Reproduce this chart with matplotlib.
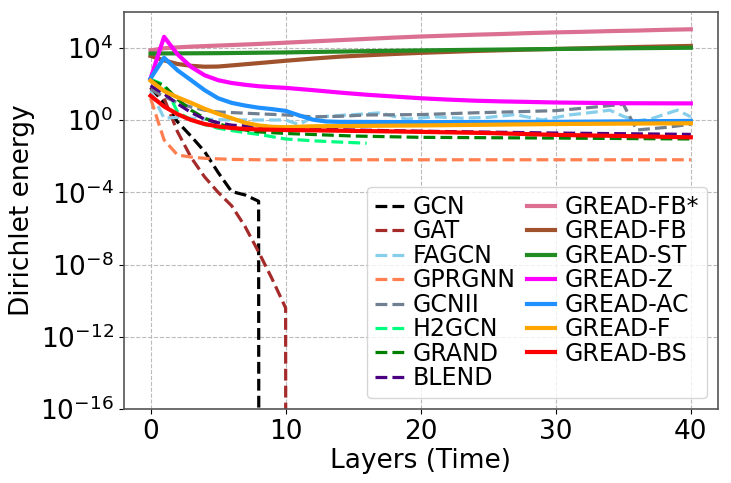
import numpy as np
import matplotlib
matplotlib.use("Agg")
import matplotlib.pyplot as plt
from matplotlib.ticker import NullLocator

# ---------------------------------------------------------------------------
# Data (Dirichlet energy, layer -> energy)
# ---------------------------------------------------------------------------

# baselines (dashed)
gcn_layers = [0, 1, 2, 3, 4, 5, 6, 7, 8, 9]
gcn_energy = [6.3e1, 8.9e0, 7.9e-1, 1.26e-1, 1.8e-2, 1.26e-3, 1.1e-4, 7.1e-5, 3.2e-5, 0.0]

gat_layers = [0, 1, 2, 3, 4, 5, 6, 7, 8, 9, 10, 11]
gat_energy = [5.6e1, 1.6e1, 2.2e-1, 8.5e-3, 7.1e-4, 1.0e-4, 1.8e-5, 1.26e-6,
              5.0e-8, 1.6e-9, 4.0e-11, 0.0]

fagcn_layers = [0, 1, 2, 3, 4, 6, 8, 10, 11, 12, 14, 16, 17, 18, 19, 21, 23, 25,
                27, 29, 31, 33, 34, 35, 36, 37, 38, 39, 40]
fagcn_energy = [4.0e1, 1.26, 1.4, 1.26, 1.12, 1.0, 1.0, 1.0, 0.56, 1.4, 1.8, 2.2,
                2.5, 1.6, 1.12, 1.5, 1.26, 1.4, 2.0, 1.0, 1.9, 2.8, 3.5, 1.6,
                0.9, 1.12, 2.0, 3.5, 1.5]

gprgnn_layers = [0, 1, 2, 3, 4, 5, 6, 8, 10, 20, 30, 40]
gprgnn_energy = [1.6e1, 7.9e-2, 1.15e-2, 8.9e-3, 7.6e-3, 7.1e-3, 6.6e-3, 6.3e-3,
                 6.3e-3, 6.3e-3, 6.3e-3, 6.3e-3]

gcnii_layers = [0, 1, 2, 3, 4, 5, 8, 10, 12, 14, 16, 20, 24, 28, 30, 32, 35, 36, 38, 40]
gcnii_energy = [5.0e1, 2.0e1, 8.9, 5.2, 3.5, 2.8, 2.2, 1.9, 1.5, 1.6, 1.9, 2.0,
                2.5, 3.0, 3.3, 4.5, 7.4, 0.28, 0.38, 0.58]

h2gcn_layers = [0, 1, 2, 3, 4, 5, 6, 7, 8, 10, 12, 14, 16]
h2gcn_energy = [1.8e2, 8.9e1, 2.8, 1.0, 0.56, 0.35, 0.26, 0.2, 0.16, 8.9e-2,
                7.1e-2, 6.0e-2, 5.2e-2]

grand_layers = [0, 1, 2, 3, 4, 5, 6, 7, 8, 10, 15, 20, 30, 40]
grand_energy = [1.6e2, 7.9e1, 1.4e1, 3.5, 1.26, 0.63, 0.38, 0.28, 0.22, 0.18,
                0.13, 0.11, 0.1, 8.9e-2]

blend_layers = [0, 1, 2, 3, 4, 5, 6, 8, 10, 15, 20, 30, 40]
blend_energy = [7.9e1, 2.8e1, 7.9, 2.6, 1.12, 0.71, 0.52, 0.42, 0.35, 0.28,
                0.24, 0.19, 0.16]

# GREAD variants (solid)
fbs_layers = [0, 1, 2, 3, 4, 5, 6, 8, 10, 12, 14, 16, 18, 20, 22, 24, 26, 28,
              30, 32, 34, 36, 38, 40]
fbs_energy = [7.1e3, 9.3e3, 1.05e4, 1.15e4, 1.23e4, 1.32e4, 1.41e4, 1.62e4,
              1.9e4, 2.24e4, 2.63e4, 3.09e4, 3.63e4, 4.17e4, 4.68e4, 5.25e4,
              5.75e4, 6.46e4, 7.08e4, 7.59e4, 8.32e4, 8.91e4, 9.77e4, 1.05e5]

fb_layers = [0, 1, 2, 3, 4, 5, 6, 8, 10, 12, 14, 16, 18, 20, 24, 28, 32, 36, 40]
fb_energy = [3.5e3, 2.0e3, 1.26e3, 1.0e3, 8.9e2, 9.1e2, 1.05e3, 1.41e3, 1.9e3,
             2.5e3, 3.2e3, 3.8e3, 4.5e3, 5.2e3, 6.6e3, 7.9e3, 9.3e3, 1.1e4, 1.26e4]

st_layers = [0, 5, 10, 15, 20, 25, 30, 35, 40]
st_energy = [4.8e3, 5.0e3, 5.5e3, 6.3e3, 7.1e3, 7.8e3, 8.5e3, 9.3e3, 1.0e4]

z_layers = [0, 1, 2, 3, 4, 5, 6, 7, 8, 9, 10, 12, 14, 16, 18, 20, 22, 24, 26,
            28, 30, 35, 40]
z_energy = [2.0e2, 4.0e4, 4.3e3, 8.7e2, 3.0e2, 1.6e2, 1.12e2, 8.9e1, 7.4e1,
            6.6e1, 6.0e1, 4.5e1, 3.3e1, 2.5e1, 2.0e1, 1.6e1, 1.35e1, 1.17e1,
            1.07e1, 1.0e1, 9.3, 8.5, 8.3]

ac_layers = [0, 1, 2, 3, 4, 5, 6, 7, 8, 9, 10, 11, 12, 13, 14, 20, 30, 40]
ac_energy = [2.0e2, 2.8e3, 5.6e2, 1.6e2, 4.5e1, 1.6e1, 8.9, 6.3, 4.8, 4.0, 3.2,
             1.8, 1.05, 0.83, 0.79, 0.76, 0.79, 0.89]

f_layers = [0, 1, 2, 3, 4, 5, 6, 7, 8, 9, 10, 12, 20, 30, 40]
f_energy = [1.5e2, 4.0e1, 1.8e1, 8.9, 4.2, 2.2, 1.26, 0.71, 0.5, 0.42, 0.4,
            0.45, 0.5, 0.6, 0.66]

bs_layers = [0, 1, 2, 3, 4, 5, 6, 7, 8, 10, 15, 20, 25, 30, 35, 40]
bs_energy = [2.2e1, 5.6, 2.1, 1.0, 0.6, 0.44, 0.36, 0.32, 0.3, 0.28, 0.25, 0.22,
             0.19, 0.15, 0.13, 0.11]

# ---------------------------------------------------------------------------
# Styles
# ---------------------------------------------------------------------------

SERIES = [
    ("GCN",       gcn_layers,    gcn_energy,    "black",          "--"),
    ("GAT",       gat_layers,    gat_energy,    "brown",          "--"),
    ("FAGCN",     fagcn_layers,  fagcn_energy,  "skyblue",        "--"),
    ("GPRGNN",    gprgnn_layers, gprgnn_energy, "coral",          "--"),
    ("GCNII",     gcnii_layers,  gcnii_energy,  "slategray",      "--"),
    ("H2GCN",     h2gcn_layers,  h2gcn_energy,  "springgreen",    "--"),
    ("GRAND",     grand_layers,  grand_energy,  "green",          "--"),
    ("BLEND",     blend_layers,  blend_energy,  "indigo",         "--"),
    ("GREAD-FB*", fbs_layers,    fbs_energy,    "palevioletred",  "-"),
    ("GREAD-FB",  fb_layers,     fb_energy,     "sienna",         "-"),
    ("GREAD-ST",  st_layers,     st_energy,     "forestgreen",    "-"),
    ("GREAD-Z",   z_layers,      z_energy,      "magenta",        "-"),
    ("GREAD-AC",  ac_layers,     ac_energy,     "dodgerblue",     "-"),
    ("GREAD-F",   f_layers,      f_energy,      "orange",         "-"),
    ("GREAD-BS",  bs_layers,     bs_energy,     "red",            "-"),
]

fig = plt.figure(figsize=(7.31, 4.83), dpi=100)
ax = fig.add_axes([0.169, 0.153, 0.813, 0.823])

for name, xs, ys, color, ls in SERIES:
    lw = 2.3 if ls == "--" else 3.0
    ax.plot(xs, ys, color=color, ls=ls, lw=lw, label=name)

ax.set_yscale("log", nonpositive="clip")
ax.set_ylim(1e-16, 1e6)
ax.set_xlim(-2, 42)
ax.set_yticks([1e-16, 1e-12, 1e-8, 1e-4, 1e0, 1e4])
ax.yaxis.set_minor_locator(NullLocator())
ax.set_xticks([0, 10, 20, 30, 40])
ax.tick_params(labelsize=19)
ax.grid(True, ls="--", color="#bbbbbb", lw=0.8)
for sp in ax.spines.values():
    sp.set_color("#555555")
    sp.set_linewidth(1.2)

ax.set_xlabel("Layers (Time)", fontsize=19, labelpad=2)
ax.set_ylabel("Dirichlet energy", fontsize=19, labelpad=4)

ax.legend(loc="lower right", ncol=2, fontsize=17, labelspacing=0.02,
          handlelength=1.2, handletextpad=0.4, columnspacing=0.45,
          borderpad=0.35, borderaxespad=0.45)

fig.savefig("out.png", dpi=100)
